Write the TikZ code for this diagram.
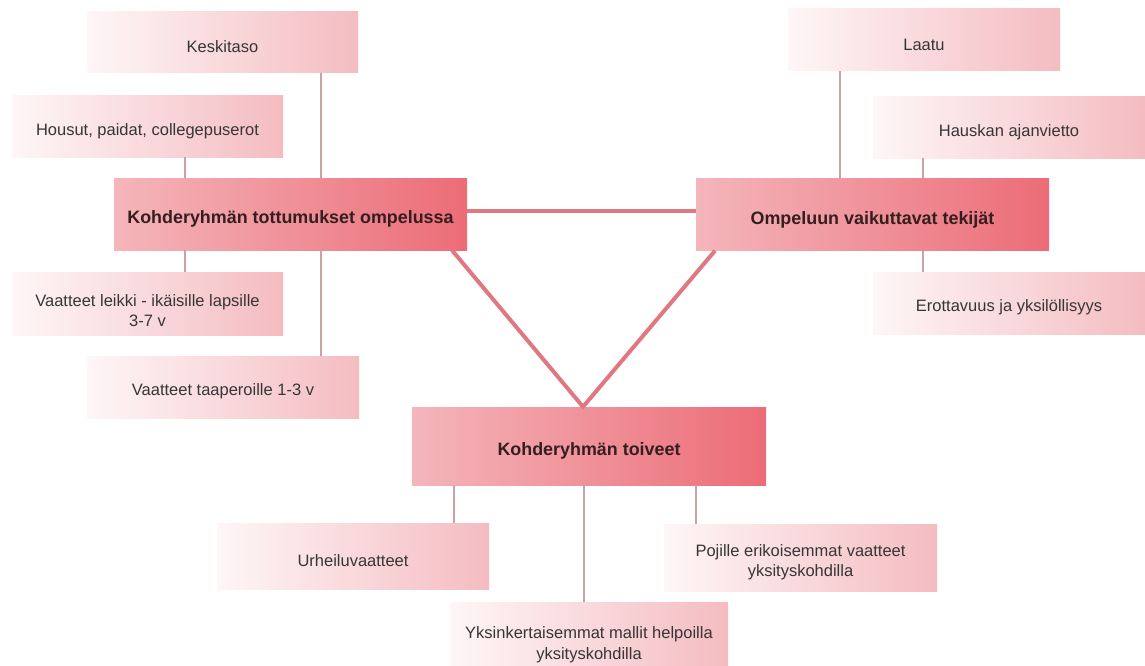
\documentclass[tikz,border=0pt]{standalone}
\usepackage{fontspec}
\setmainfont{Liberation Sans}
\begin{document}
\begin{tikzpicture}[x=1pt,y=-1pt,
  leafbox/.style={left color=leafL, right color=leafR, draw=none, inner sep=2pt,
    align=center, text=leafT, font=\fontsize{16.5}{20.5}\selectfont,
    execute at begin node={\rule{0pt}{20.5pt}}},
  mltext/.style={align=center, text=leafT, font=\fontsize{16.5}{20.5}\selectfont, inner sep=0pt},
  mainbox/.style={left color=mainL, right color=mainR, draw=none, inner sep=2pt,
    align=center, text=mainT, font=\fontsize{17.9}{21}\selectfont\bfseries,
    minimum width=353pt, minimum height=72pt,
    execute at begin node={\rule{0pt}{23pt}}},
  conn/.style={draw=connC, line width=1.1pt},
  tri/.style={draw=triC, line width=4pt}]
\definecolor{leafL}{HTML}{FEF6F7}
\definecolor{leafR}{HTML}{F4BCC1}
\definecolor{leafT}{HTML}{363636}
\definecolor{mainL}{HTML}{F4B6BB}
\definecolor{mainR}{HTML}{EC6C77}
\definecolor{mainT}{HTML}{351E20}
\definecolor{connC}{HTML}{C9A2A7}
\definecolor{triC}{HTML}{E07882}
\useasboundingbox[fill=white] (0,0) rectangle (1145,666);

% main boxes
\node[mainbox] (m1) at (290.5,214) {Kohderyhmän tottumukset ompelussa};
\node[mainbox] (m2) at (872.5,214.5) {Ompeluun vaikuttavat tekijät};
\node[mainbox, minimum width=354pt, minimum height=78pt] (m3) at (589,446) {Kohderyhmän toiveet};

% leaf boxes
\node[leafbox, minimum width=271pt, minimum height=61pt] (kesk) at (222.5,42) {Keskitaso};
\node[leafbox, minimum width=271pt, minimum height=61pt] (hous) at (147.5,126.5) {Housut, paidat, collegepuserot};
\node[leafbox, minimum width=271pt, minimum height=63pt,
  label={[mltext, yshift=-7pt]center:Vaatteet leikki - ikäisille lapsille\\3-7 v}] (leik) at (147.5,303.5) {};
\node[leafbox, minimum width=272pt, minimum height=62pt] (taap) at (223,387) {Vaatteet taaperoille 1-3 v};
\node[leafbox, minimum width=272pt, minimum height=62pt] (laatu) at (924,40) {Laatu};
\node[leafbox, minimum width=272pt, minimum height=61pt] (hausk) at (1009,127.5) {Hauskan ajanvietto};
\node[leafbox, minimum width=272pt, minimum height=62pt] (erot) at (1009,303) {Erottavuus ja yksilöllisyys};
\node[leafbox, minimum width=272pt, minimum height=66pt] (urh) at (353,556) {Urheiluvaatteet};
\node[leafbox, minimum width=273pt, minimum height=67pt,
  label={[mltext, yshift=-4.5pt]center:Pojille erikoisemmat vaatteet\\yksityskohdilla}] (poj) at (800.5,557.5) {};
\node[leafbox, minimum width=278pt, minimum height=65pt,
  label={[mltext, yshift=-10pt]center:Yksinkertaisemmat mallit helpoilla\\yksityskohdilla}] (yks) at (589,634.5) {};

% connector x positions
\coordinate (xa) at (185,0);
\coordinate (xb) at (321,0);
\coordinate (xc) at (840,0);
\coordinate (xd) at (923,0);
\coordinate (xe) at (454,0);
\coordinate (xf) at (584,0);
\coordinate (xg) at (696,0);

% thin connectors
\draw[conn] (kesk.south -| xb) -- (m1.north -| xb);
\draw[conn] (hous.south -| xa) -- (m1.north -| xa);
\draw[conn] (m1.south -| xa) -- (leik.north -| xa);
\draw[conn] (m1.south -| xb) -- (taap.north -| xb);
\draw[conn] (laatu.south -| xc) -- (m2.north -| xc);
\draw[conn] (hausk.south -| xd) -- (m2.north -| xd);
\draw[conn] (m2.south -| xd) -- (erot.north -| xd);
\draw[conn] (m3.south -| xe) -- (urh.north -| xe);
\draw[conn] (m3.south -| xf) -- (yks.north -| xf);
\draw[conn] (m3.south -| xg) -- (poj.north -| xg);

% triangle
\coordinate (ty) at (0,211);
\coordinate (p1) at (452,0);
\coordinate (p2) at (715,0);
\coordinate (ap) at (583,0);
\draw[tri] (m1.east |- ty) -- (m2.west |- ty);
\draw[tri, line join=miter] (m1.south -| p1) -- (m3.north -| ap) -- (m2.south -| p2);
\end{tikzpicture}
\end{document}
